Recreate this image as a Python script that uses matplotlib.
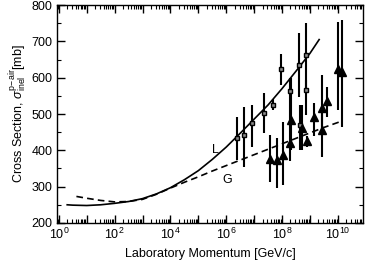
import numpy as np
import matplotlib
matplotlib.use('agg')
import matplotlib.pyplot as plt
from matplotlib.ticker import LogLocator, MultipleLocator, NullFormatter

plt.rcParams['font.family'] = ['Liberation Sans', 'DejaVu Sans']
plt.rcParams['mathtext.fontset'] = 'custom'
plt.rcParams['mathtext.rm'] = 'Liberation Sans'
plt.rcParams['mathtext.it'] = 'Liberation Sans:italic'

# curve L (solid), log10 of momentum vs cross section
L_logp = [0.3, 0.5, 1, 1.5, 2, 2.5, 3, 3.5, 4, 4.5, 5, 5.5, 6, 6.5, 7, 7.5, 8, 8.5, 9, 9.33]
L_sig = [250, 249, 248, 250, 254, 259, 267, 280, 297, 319, 344, 375, 409, 447, 486, 525, 570, 618, 667, 705]

# curve G (dashed)
G_logp = [0.63, 1, 1.5, 2, 2.5, 3, 3.5, 4, 4.5, 5, 5.5, 6, 6.5, 7, 7.5, 8, 8.5, 9, 9.5, 10.05]
G_sig = [273, 268, 262, 258, 259, 265, 279, 296, 312, 327, 343, 358, 373, 388, 403, 418, 433, 448, 463, 478]

# square points
sq_logp = [6.40, 6.64, 6.91, 7.36, 7.68, 7.98, 8.28, 8.60, 8.64, 8.85, 8.85]
sq_sig = [433, 442, 474, 504, 526, 624, 562, 636, 470, 663, 565]
sq_lo = [373, 355, 410, 447, 512, 580, 470, 548, 401, 566, 497]
sq_hi = [491, 520, 525, 557, 540, 664, 600, 722, 525, 751, 594]

# triangle points
tr_logp = [7.58, 7.82, 8.05, 8.28, 8.32, 8.73, 8.88, 9.15, 9.42, 9.43, 9.62, 10.01, 10.15]
tr_sig = [375, 374, 388, 419, 483, 461, 426, 492, 455, 517, 535, 625, 615]
tr_lo = [314, 295, 305, 370, 400, 401, 410, 440, 382, 451, 493, 511, 465]
tr_hi = [442, 433, 479, 480, 600, 525, 440, 530, 511, 607, 575, 754, 759]

fig = plt.figure(figsize=(3.67, 2.67), dpi=100)
ax = fig.add_axes([0.155, 0.165, 0.834, 0.816])

ax.plot(10**np.array(L_logp), L_sig, color='black', lw=1.2)
ax.plot(10**np.array(G_logp), G_sig, color='black', lw=1.2, ls=(0, (4, 2.5)))

sq_sig = np.array(sq_sig)
ax.errorbar(10**np.array(sq_logp), sq_sig,
            yerr=[sq_sig - np.array(sq_lo), np.array(sq_hi) - sq_sig],
            fmt='s', ms=3.5, mfc='0.55', mec='black', mew=1.0, color='black',
            elinewidth=1.5, capsize=0)
tr_sig = np.array(tr_sig)
ax.errorbar(10**np.array(tr_logp), tr_sig,
            yerr=[tr_sig - np.array(tr_lo), np.array(tr_hi) - tr_sig],
            fmt='^', ms=5.5, mfc='black', mec='black', color='black',
            elinewidth=1.5, capsize=0)

ax.text(10**5.5, 393, 'L', fontsize=9)
ax.text(10**5.87, 309, 'G', fontsize=9)

ax.set_xscale('log')
ax.set_xlim(10**-0.07, 10**10.9)
ax.set_ylim(200, 800)

decades = list(range(0, 11))
ax.set_xticks([10.0**d for d in decades])
ax.set_xticklabels(['$10^{%d}$' % d if d % 2 == 0 else '' for d in decades])
ax.xaxis.set_minor_locator(LogLocator(base=10, subs=np.arange(2, 10), numticks=20))
ax.xaxis.set_minor_formatter(NullFormatter())
ax.yaxis.set_major_locator(MultipleLocator(100))
ax.yaxis.set_minor_locator(MultipleLocator(50))

ax.tick_params(which='both', direction='in', top=True, right=True, labelsize=9, pad=3)
ax.tick_params(which='major', length=6, width=1)
ax.tick_params(which='minor', length=3, width=0.8)
for s in ax.spines.values():
    s.set_linewidth(1)

ax.set_xlabel('Laboratory Momentum [GeV/c]', fontsize=9, labelpad=4)
ax.set_ylabel(r'Cross Section, $\sigma_{\mathrm{inel}}^{\mathrm{p\!-\!air}}$[mb]', fontsize=9, labelpad=2)

fig.savefig('out.png', dpi=100)
